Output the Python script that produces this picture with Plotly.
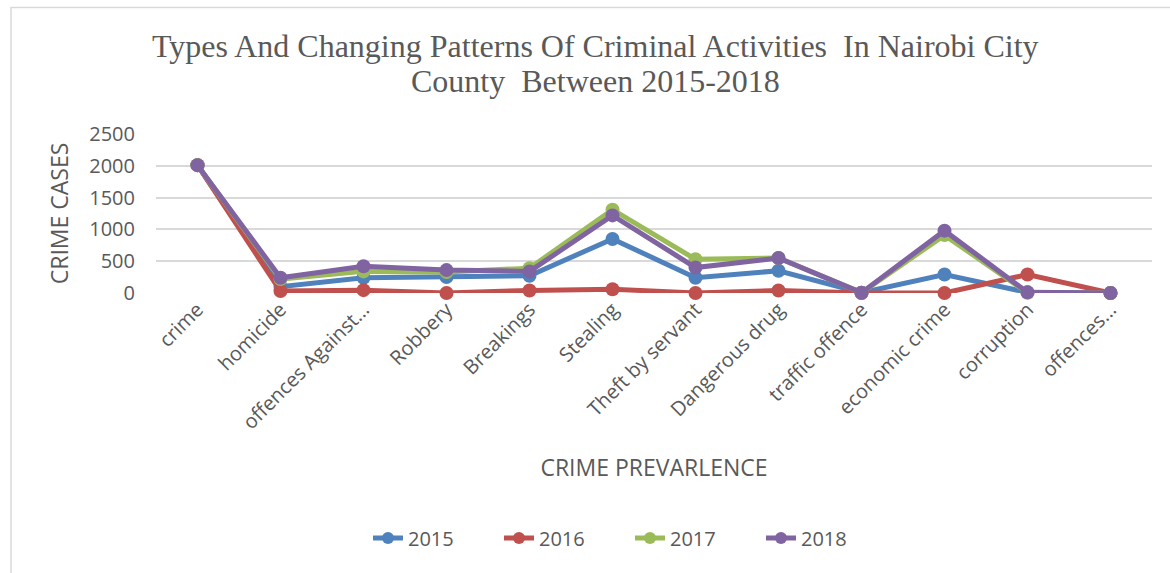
import plotly.graph_objects as go

categories = ["crime", "homicide", "offences Against...", "Robbery", "Breakings", "Stealing",
              "Theft by servant", "Dangerous drug", "traffic offence", "economic crime",
              "corruption", "offences..."]
years = ["2015", "2016", "2017", "2018"]
v2015 = [2010, 100, 240, 250, 270, 850, 240, 350, 5, 290, 10, 0]
v2016 = [2010, 30, 45, 0, 40, 60, 0, 40, 0, 0, 290, 0]
v2017 = [2010, 220, 340, 330, 390, 1310, 530, 550, 5, 910, 5, 0]
v2018 = [2010, 240, 420, 360, 340, 1220, 400, 550, 5, 980, 10, 0]
colors = ["#4F81BD", "#C0504D", "#9BBB59", "#8064A2"]
title_lines = ["Types And Changing Patterns Of Criminal Activities  In Nairobi City",
               "County  Between 2015-2018"]

series = [v2015, v2016, v2017, v2018]

fig = go.Figure()
for name, vals, col in zip(years, series, colors):
    fig.add_trace(go.Scatter(
        x=categories, y=vals, name=name, mode="lines+markers",
        line=dict(color=col, width=5),
        marker=dict(color=col, size=14),
        cliponaxis=False,
    ))

L, R, T, B = 156, 18, 134, 280
W, H = 1170, 573
pw, ph = W - L - R, H - T - B

def px_x(px):
    return (px - L) / pw

def px_y(py):
    return (H - B - py) / ph

annotations = []
for line, yc in zip(title_lines, [46, 81]):
    annotations.append(dict(
        text=line, xref="paper", yref="paper", x=px_x(595), y=px_y(yc),
        xanchor="center", yanchor="middle", showarrow=False,
        font=dict(family="Liberation Serif", size=32, color="#595959"),
    ))

fig.update_layout(
    width=W, height=H,
    margin=dict(l=L, r=R, t=T, b=B, autoexpand=False),
    paper_bgcolor="white", plot_bgcolor="white",
    font=dict(family="Open Sans", color="#595959"),
    annotations=annotations,
    showlegend=True,
    legend=dict(
        orientation="h", x=368 / W, xref="container", xanchor="left",
        y=1 - 538 / H, yref="container", yanchor="middle",
        font=dict(size=20, color="#595959"),
        entrywidth=86, entrywidthmode="pixels",
        itemsizing="constant",
    ),
    xaxis=dict(
        type="category", range=[-0.5, 11.5],
        tickangle=-45, tickfont=dict(size=20, color="#595959"),
        showgrid=False, showline=False, zeroline=False,
        title=dict(text="CRIME PREVARLENCE", font=dict(size=23, color="#595959"), standoff=26),
        automargin=False,
    ),
    yaxis=dict(
        range=[0, 2500], dtick=500,
        tickfont=dict(size=20, color="#595959"),
        showgrid=True, gridcolor="#D9D9D9", gridwidth=1.5,
        zeroline=False, showline=False,
        ticklabelstandoff=20,
        title=dict(text="CRIME CASES", font=dict(size=23, color="#595959"), standoff=14),
        automargin=False,
    ),
    shapes=[dict(
        type="rect", xref="paper", yref="paper",
        x0=px_x(11), x1=px_x(1180), y0=px_y(590), y1=px_y(7.5),
        line=dict(color="#D9D9D9", width=1.5), fillcolor="rgba(0,0,0,0)", layer="below",
    )],
)

fig.write_html("out.html")
